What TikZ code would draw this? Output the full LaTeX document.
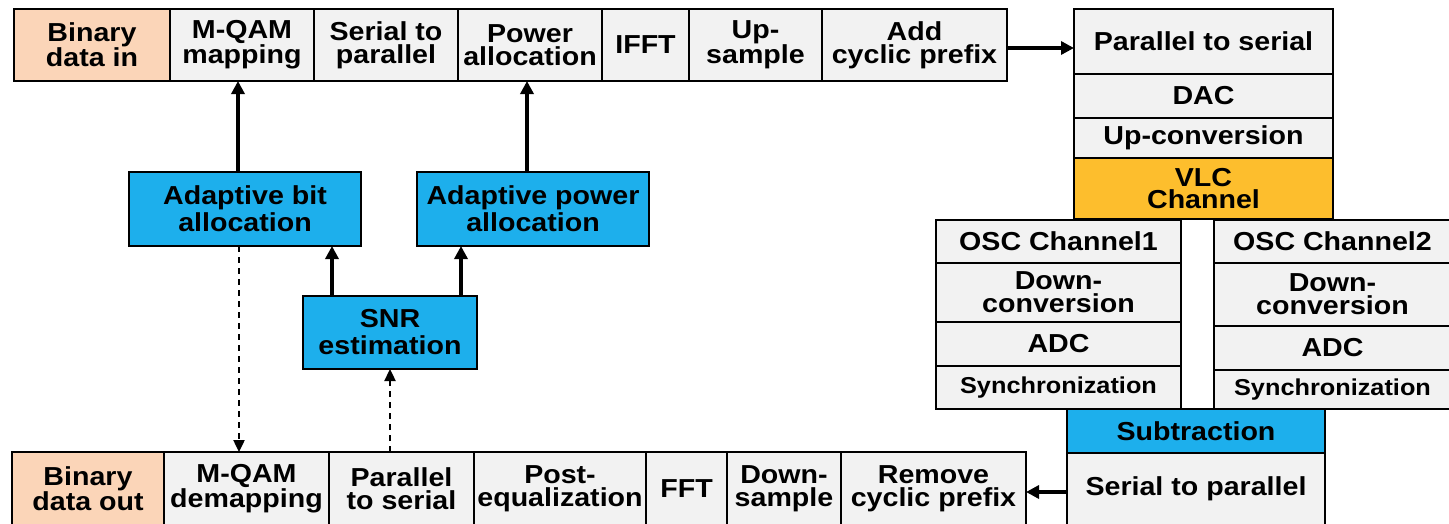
\documentclass[tikz,border=0pt]{standalone}
\usepackage{fontspec}
\setmainfont{Liberation Sans}[FakeStretch=1.1]
\usetikzlibrary{arrows.meta}
\definecolor{gfill}{RGB}{242,242,242}
\definecolor{peachc}{RGB}{251,213,184}
\definecolor{bluec}{RGB}{29,175,236}
\definecolor{orangec}{RGB}{253,190,45}
\tikzset{
  base/.style={draw=black, line width=2.2pt, inner sep=0pt, outer sep=0pt, align=center,
    font=\fontsize{26}{23}\selectfont\bfseries, text=black},
  greybox/.style={base, fill=gfill},
  peachbox/.style={base, fill=peachc},
  bluebox/.style={base, fill=bluec, font=\fontsize{26}{27}\selectfont\bfseries},
  orangebox/.style={base, fill=orangec, font=\fontsize{26}{22}\selectfont\bfseries},
  smallbox/.style={greybox, font=\fontsize{23}{22}\selectfont\bfseries},
  arr/.style={line width=3.4pt, -{Triangle[length=13pt,width=13pt]}},
  darr/.style={line width=2.4pt, dash pattern=on 6pt off 5pt, -{Triangle[length=12pt,width=11pt]}},
}
\newcommand\bx[7]{\node[#6, minimum width={(#4-#2)*1pt}, minimum height={(#5-#3)*1pt}] (#1) at ({(#2+#4)/2},{(#3+#5)/2}) {#7};}
\begin{document}
\begin{tikzpicture}[x=1pt,y=-1pt]
\useasboundingbox (0,0) rectangle (1449,523);
% top row
\bx{binin}{14}{9}{170}{81}{peachbox}{Binary\\data in}
\bx{mqam}{170}{9}{314}{81}{greybox}{M-QAM\\mapping}
\bx{stp}{314}{9}{458}{81}{greybox}{Serial to\\parallel}
\bx{pa}{458}{9}{602}{81}{greybox}{Power\\allocation}
\bx{ifft}{602}{9}{689}{81}{greybox}{IFFT}
\bx{ups}{689}{9}{822}{81}{greybox}{Up-\\sample}
\bx{acp}{822}{9}{1007}{81}{greybox}{Add\\cyclic prefix}
% right column
\bx{pts}{1074}{9}{1333}{74}{greybox}{Parallel to serial}
\bx{dac}{1074}{74}{1333}{118}{greybox}{DAC}
\bx{upc}{1074}{118}{1333}{158}{greybox}{Up-conversion}
\bx{vlc}{1074}{158}{1333}{219}{orangebox}{VLC\\Channel}
% OSC branches
\bx{oscA}{936}{220}{1181}{263}{greybox}{OSC Channel1}
\bx{dcA}{936}{263}{1181}{322}{greybox}{Down-\\conversion}
\bx{adcA}{936}{322}{1181}{366}{greybox}{ADC}
\bx{syncA}{936}{366}{1181}{409}{smallbox}{Synchronization}
\bx{oscB}{1214}{220}{1451}{263}{greybox}{OSC Channel2}
\bx{dcB}{1214}{263}{1451}{326}{greybox}{Down-\\conversion}
\bx{adcB}{1214}{326}{1451}{370}{greybox}{ADC}
\bx{syncB}{1214}{370}{1451}{409}{smallbox}{Synchronization}
\bx{sub}{1067}{409}{1325}{453}{bluebox}{Subtraction}
\bx{stpR}{1067}{453}{1325}{525}{greybox}{Serial to parallel}
% bottom row
\bx{bout}{12}{452}{164}{525}{peachbox}{Binary\\data out}
\bx{demap}{164}{452}{329}{525}{greybox}{M-QAM\\demapping}
\bx{ptsB}{329}{452}{474}{525}{greybox}{Parallel\\to serial}
\bx{peq}{474}{452}{646}{525}{greybox}{Post-\\equalization}
\bx{fft}{646}{452}{727}{525}{greybox}{FFT}
\bx{dws}{727}{452}{841}{525}{greybox}{Down-\\sample}
\bx{rcp}{841}{452}{1026}{525}{greybox}{Remove\\cyclic prefix}
% middle
\bx{abit}{129}{172}{361}{246}{bluebox}{Adaptive bit\\allocation}
\bx{apow}{417}{172}{649}{246}{bluebox}{Adaptive power\\allocation}
\bx{snr}{303}{296}{477}{369}{bluebox}{SNR\\estimation}
% connectors
\draw[arr] ([yshift=-3pt]acp.east) -- ([yshift=-3pt]acp.east -| pts.west);
\draw[arr] ([yshift=-3pt]stpR.west) -- ([yshift=-3pt]stpR.west -| rcp.east);
\draw[arr] ([xshift=-4pt]mqam.south |- abit.north) -- ([xshift=-4pt]mqam.south);
\draw[arr] ([xshift=-3pt]pa.south |- apow.north) -- ([xshift=-3pt]pa.south);
\draw[arr] ([xshift=-58pt]snr.north) -- ([xshift=-58pt]snr.north |- abit.south);
\draw[arr] ([xshift=71pt]snr.north) -- ([xshift=71pt]snr.north |- apow.south);
\draw[darr] ([xshift=-6pt]abit.south) -- ([xshift=-6pt]abit.south |- demap.north);
\draw[darr] (snr.south |- ptsB.north) -- (snr.south);
\end{tikzpicture}
\end{document}
